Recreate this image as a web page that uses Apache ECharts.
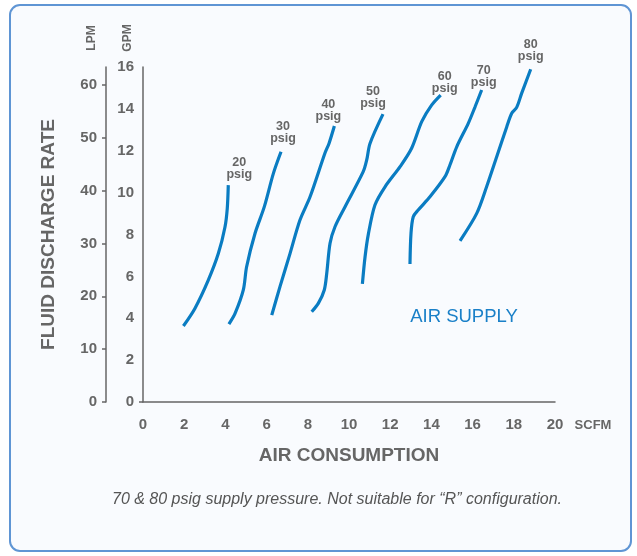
<!DOCTYPE html>
<html>
<head>
    <meta charset="utf-8">
    <title>Air consumption</title>
    <script src="https://cdn.jsdelivr.net/npm/echarts@6/dist/echarts.min.js"></script>
    <style>
        html, body { margin: 0; padding: 0; background: #ffffff; }
    </style>
</head>
<body>
    <div id="main" style="width:637px;height:556px;"></div>
    <script type="text/javascript">
    // curves, [SCFM, GPM]
    var pressures = ['20', '30', '40', '50', '60', '70', '80'];
    var curve20 = [[1.96, 3.63], [2.52, 4.47], [3.17, 5.82], [3.66, 7.10], [3.98, 8.36], [4.09, 9.24], [4.14, 10.36]];
    var curve30 = [[4.17, 3.72], [4.47, 4.23], [4.87, 5.35], [5.03, 6.46], [5.44, 8.06], [5.89, 9.33], [6.33, 10.92], [6.70, 11.95]];
    var curve40 = [[6.25, 4.15], [6.65, 5.51], [7.14, 7.10], [7.62, 8.69], [8.11, 9.80], [8.83, 11.88], [9.03, 12.35], [9.29, 13.18]];
    var curve50 = [[8.19, 4.31], [8.51, 4.71], [8.80, 5.35], [8.92, 6.15], [9.08, 7.58], [9.32, 8.37], [9.81, 9.33], [10.69, 11.00], [10.86, 11.56], [11.02, 12.35], [11.65, 13.75]];
    var curve60 = [[10.65, 5.64], [10.78, 6.94], [10.94, 8.02], [11.26, 9.41], [11.75, 10.28], [12.48, 11.24], [13.04, 12.12], [13.53, 13.39], [14.01, 14.18], [14.45, 14.66]];
    var curve70 = [[12.96, 6.59], [13.01, 8.06], [13.12, 8.85], [13.36, 9.17], [13.93, 9.80], [14.66, 10.76], [14.90, 11.32], [15.23, 12.19], [15.79, 13.31], [16.12, 14.10], [16.44, 14.90]];
    var curve80 = [[15.39, 7.70], [16.20, 9.01], [16.68, 10.28], [17.17, 11.71], [17.66, 13.15], [17.90, 13.79], [18.14, 14.07], [18.38, 14.74], [18.82, 15.89]];
    var curves = [curve20, curve30, curve40, curve50, curve60, curve70, curve80];
    var lpmTicks = [0, 10, 20, 30, 40, 50, 60];

    // where each "psig" label sits compared to the end of its curve
    var labelOffsets = [[11, 0], [2, -2], [-6, 2], [-10, 0], [4, 4], [2, 4], [0, -2]];

    var font = '"Liberation Sans", Arial, sans-serif';
    var grey = '#666666';
    var blue = '#0a7cc2';

    var myChart = echarts.init(document.getElementById('main'));

    var series = curves.map(function (c, i) {
        var data = c.map(function (p, j) {
            if (j === c.length - 1) {
                return {
                    value: p,
                    label: {
                        show: true,
                        position: 'top',
                        distance: 5,
                        offset: labelOffsets[i],
                        formatter: pressures[i] + '\npsig',
                        color: grey,
                        fontFamily: font,
                        fontWeight: 'bold',
                        fontSize: 12.5,
                        lineHeight: 12
                    }
                };
            }
            return p;
        });
        return {
            name: pressures[i] + ' psig',
            type: 'line',
            smooth: 0.3,
            symbol: 'circle',
            symbolSize: 0,
            showSymbol: true,
            lineStyle: { color: blue, width: 3.2 },
            itemStyle: { color: blue },
            data: data
        };
    });

    var option = {
        animation: false,
        backgroundColor: '#ffffff',
        textStyle: { fontFamily: font },
        title: {
            text: '70 & 80 psig supply pressure. Not suitable for \u201cR\u201d configuration.',
            left: 332,
            textAlign: 'center',
            top: 487,
            textStyle: {
                color: '#555555',
                fontFamily: font,
                fontStyle: 'italic',
                fontWeight: 'normal',
                fontSize: 16
            }
        },
        graphic: [
            {
                type: 'rect',
                z: -10,
                shape: { x: 10, y: 5, width: 621, height: 546, r: 10 },
                style: { fill: '#f9fbfe', stroke: '#5f95d4', lineWidth: 2 }
            },
            {
                type: 'text', x: 92, y: 38, rotation: Math.PI / 2,
                style: { text: 'LPM', fill: grey, font: 'bold 12px ' + font, textAlign: 'center', textVerticalAlign: 'middle' }
            },
            {
                type: 'text', x: 128, y: 38, rotation: Math.PI / 2,
                style: { text: 'GPM', fill: grey, font: 'bold 12px ' + font, textAlign: 'center', textVerticalAlign: 'middle' }
            },
            {
                type: 'text', x: 593, y: 425,
                style: { text: 'SCFM', fill: grey, font: 'bold 13px ' + font, textAlign: 'center', textVerticalAlign: 'middle' }
            },
            {
                type: 'text', x: 464, y: 317,
                style: { text: 'AIR SUPPLY', fill: '#1a80c8', font: '18.5px ' + font, textAlign: 'center', textVerticalAlign: 'middle' }
            }
        ],
        grid: {
            left: 143,
            right: 82,
            top: 67,
            bottom: 154
        },
        xAxis: {
            type: 'value',
            min: 0,
            max: 20,
            interval: 2,
            name: 'AIR CONSUMPTION',
            nameLocation: 'middle',
            nameGap: 44,
            nameTextStyle: { color: grey, fontFamily: font, fontWeight: 'bold', fontSize: 19 },
            axisLine: { show: true, lineStyle: { color: grey, width: 1.5 } },
            axisTick: { show: false },
            splitLine: { show: false },
            axisLabel: { color: grey, fontFamily: font, fontWeight: 'bold', fontSize: 15, margin: 15 }
        },
        yAxis: [
            {
                type: 'value',
                position: 'left',
                min: 0,
                max: 16,
                interval: 2,
                axisLine: { show: true, lineStyle: { color: grey, width: 1.5 } },
                axisTick: { show: true, customValues: [0], length: 4, lineStyle: { color: grey, width: 1.5 } },
                splitLine: { show: false },
                axisLabel: { color: grey, fontFamily: font, fontWeight: 'bold', fontSize: 15, margin: 9 }
            },
            {
                type: 'value',
                position: 'left',
                offset: 37,
                min: 0,
                max: 63.4,
                name: 'FLUID DISCHARGE RATE',
                nameLocation: 'middle',
                nameGap: 48,
                nameTextStyle: { color: grey, fontFamily: font, fontWeight: 'bold', fontSize: 19 },
                axisLine: { show: true, lineStyle: { color: grey, width: 1.5 } },
                axisTick: { show: true, customValues: lpmTicks, length: 4, lineStyle: { color: grey, width: 1.5 } },
                splitLine: { show: false },
                axisLabel: { customValues: lpmTicks, color: grey, fontFamily: font, fontWeight: 'bold', fontSize: 15, margin: 9 }
            }
        ],
        series: series
    };

    myChart.setOption(option);
    </script>
</body>
</html>
